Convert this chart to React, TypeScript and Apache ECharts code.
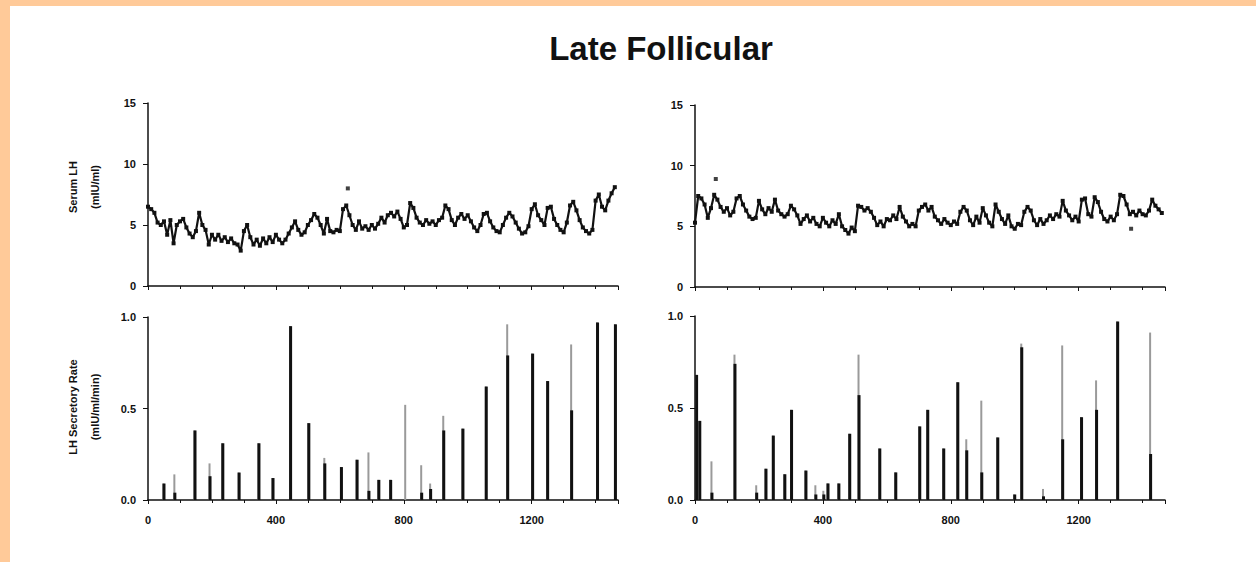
import React, { useEffect, useRef } from "react";
import * as echarts from "echarts";

const TITLE = "Late Follicular";
const SERUM_NAME = ["Serum LH", "(mIU/ml)"];
const RATE_NAME = ["LH Secretory Rate", "(mIU/ml/min)"];
const X_LABELS = [0, 400, 800, 1200];
const X_MAX = 1470;
const SAMPLE_STEP_MIN = 10;

// Serum LH (mIU/ml), one sample every 10 min
const leftSerumLH = [
  6.5, 6.3, 6.0, 5.2, 5.0, 5.3, 4.2, 5.4, 3.5, 5.0,
  5.3, 5.5, 4.8, 4.3, 4.0, 4.5, 6.0, 5.0, 4.6, 3.4,
  4.2, 3.8, 4.2, 3.7, 4.0, 3.6, 3.9, 3.5, 3.4, 2.9,
  4.5, 5.0, 4.0, 3.4, 3.8, 3.3, 3.9, 3.5, 4.0, 3.6,
  4.2, 3.8, 3.5, 3.8, 4.3, 4.8, 5.3, 4.6, 4.2, 4.4,
  5.0, 5.4, 5.9, 5.6, 5.0, 4.3, 5.5, 4.5, 4.4, 4.6,
  4.5, 6.3, 6.6, 5.8, 5.0, 4.6, 5.3, 4.7, 4.9, 4.6,
  5.0, 4.7, 5.1, 5.6, 5.2, 5.8, 6.0, 5.7, 6.1, 5.5,
  4.8, 5.0, 6.8, 6.4, 5.6, 5.2, 5.0, 5.4, 5.1, 5.3,
  5.0, 5.4, 5.6, 6.6, 6.3, 5.4, 5.0, 5.6, 5.9, 5.5,
  5.8, 5.3, 4.8, 4.5, 5.0, 5.9, 6.0, 5.3, 4.8, 4.5,
  4.4, 5.0, 5.6, 6.0, 5.7, 5.2, 4.7, 4.3, 4.4, 4.9,
  6.3, 6.7, 5.8, 5.4, 5.0, 6.4, 6.5, 5.5, 5.0, 4.6,
  4.4, 5.2, 6.6, 6.9, 6.2, 5.4, 4.8, 4.5, 4.3, 4.6,
  7.0, 7.5, 6.5, 6.2, 7.0, 7.6, 8.1,
];
const rightSerumLH = [
  5.3, 7.5, 7.3, 6.8, 5.7, 6.5, 7.6, 7.2, 6.6, 6.2,
  6.5, 5.9, 6.2, 7.3, 7.5, 6.8, 6.3, 5.8, 5.6, 5.7,
  7.1, 6.4, 6.0, 6.5, 6.2, 7.2, 6.3, 6.0, 5.8, 6.0,
  6.7, 6.4, 5.9, 5.2, 5.6, 5.9, 5.4, 5.7, 5.2, 5.0,
  5.7, 5.3, 5.0, 5.5, 5.2, 6.0, 5.0, 4.7, 4.4, 4.9,
  4.6, 6.7, 6.6, 6.3, 6.5, 6.2, 5.7, 5.1, 5.4, 5.0,
  5.6, 5.5, 5.9, 5.6, 6.6, 5.8, 5.4, 5.0, 5.2, 5.0,
  6.3, 6.6, 6.8, 6.3, 6.6, 5.8, 5.5, 5.2, 5.6, 5.3,
  5.1, 5.4, 5.2, 6.2, 6.6, 6.3, 5.5, 5.1, 5.8, 5.3,
  6.5, 5.9, 5.3, 5.0, 6.8, 6.2, 5.6, 5.2, 5.9, 5.0,
  4.8, 5.2, 5.1, 6.2, 6.6, 6.3, 5.5, 5.1, 5.6, 5.2,
  5.5, 5.9, 5.6, 6.0, 5.8, 7.1, 6.3, 5.9, 5.5, 5.8,
  5.4, 7.2, 7.3, 6.0, 5.8, 7.4, 7.0, 6.2, 5.6, 5.4,
  5.8, 5.5, 6.0, 7.6, 7.5, 6.8, 6.0, 6.2, 5.9, 6.3,
  6.0, 5.9, 6.3, 7.2, 6.7, 6.4, 6.1,
];
const leftSerumOutliers = [[625, 8.0]];
const rightSerumOutliers = [[65, 8.9], [1364, 4.8]];

// LH secretory rate pulses (mIU/ml/min): time, estimate, upper bound
const leftPulseMin = [50, 84, 147, 194, 234, 285, 347, 391, 446, 503, 553, 605, 654, 691, 722, 759, 806, 856, 884, 925, 985, 1058, 1125, 1203, 1250, 1325, 1406, 1462];
const leftPulseRate = [0.09, 0.04, 0.38, 0.13, 0.31, 0.15, 0.31, 0.12, 0.95, 0.42, 0.2, 0.18, 0.22, 0.05, 0.11, 0.11, 0.0, 0.04, 0.06, 0.38, 0.39, 0.62, 0.79, 0.8, 0.65, 0.49, 0.97, 0.96];
const leftPulseUpper = [0.09, 0.14, 0.38, 0.2, 0.31, 0.15, 0.31, 0.12, 0.95, 0.42, 0.23, 0.18, 0.22, 0.26, 0.11, 0.11, 0.52, 0.19, 0.09, 0.46, 0.39, 0.62, 0.96, 0.8, 0.65, 0.85, 0.97, 0.96];

const rightPulseMin = [5, 15, 53, 125, 193, 222, 245, 281, 302, 347, 378, 403, 416, 450, 484, 513, 578, 628, 703, 728, 778, 822, 850, 897, 947, 1000, 1022, 1090, 1150, 1209, 1256, 1322, 1425];
const rightPulseRate = [0.68, 0.43, 0.04, 0.74, 0.04, 0.17, 0.35, 0.14, 0.49, 0.16, 0.03, 0.03, 0.09, 0.09, 0.36, 0.57, 0.28, 0.15, 0.4, 0.49, 0.28, 0.64, 0.27, 0.15, 0.34, 0.03, 0.83, 0.02, 0.33, 0.45, 0.49, 0.97, 0.25];
const rightPulseUpper = [0.68, 0.43, 0.21, 0.79, 0.08, 0.17, 0.35, 0.14, 0.49, 0.16, 0.08, 0.05, 0.09, 0.09, 0.36, 0.79, 0.28, 0.15, 0.4, 0.49, 0.28, 0.64, 0.33, 0.54, 0.34, 0.03, 0.85, 0.06, 0.84, 0.45, 0.65, 0.97, 0.91];

const INK = "#111111";
const FONT = "'Liberation Sans', Arial, sans-serif";

const toPoints = (vals: number[]) => vals.map((v, i) => [i * SAMPLE_STEP_MIN, v]);
const toBars = (mins: number[], vals: number[]) => mins.map((m, i) => [m, vals[i]]);

export default function App() {
  const ref = useRef<HTMLDivElement>(null);
  useEffect(() => {
    if (!ref.current) return;
    const chart = echarts.init(ref.current, undefined, { renderer: "svg" });

    const grids = [
      { left: 148, top: 103, width: 470, height: 183 },
      { left: 695, top: 105, width: 470, height: 182 },
      { left: 148, top: 317, width: 470, height: 183 },
      { left: 695, top: 316, width: 470, height: 184 },
    ];

    const xAxis = grids.map((_, i) => ({
      type: "value",
      gridIndex: i,
      min: 0,
      max: X_MAX,
      interval: 400,
      splitLine: { show: false },
      axisLine: { show: true, lineStyle: { color: INK, width: 1.5 } },
      axisTick: { show: true, length: 4, lineStyle: { color: INK } },
      minorTick: { show: true, splitNumber: 4, length: 3, lineStyle: { color: INK } },
      axisLabel: {
        show: i >= 2,
        color: INK,
        fontFamily: FONT,
        fontSize: 11,
        fontWeight: "bold",
        margin: 14,
        showMaxLabel: false,
        formatter: (v: number) => (X_LABELS.includes(v) ? String(v) : ""),
      },
    }));

    const yAxis = grids.map((_, i) => {
      const serum = i < 2;
      return {
        type: "value",
        gridIndex: i,
        min: 0,
        max: serum ? 15 : 1,
        interval: serum ? 5 : 0.5,
        splitLine: { show: false },
        axisLine: { show: true, lineStyle: { color: INK, width: 1.5 } },
        axisTick: { show: true, length: 5, lineStyle: { color: INK } },
        axisLabel: {
          color: INK,
          fontFamily: FONT,
          fontSize: 11,
          fontWeight: "bold",
          margin: 12,
          formatter: (v: number) => (serum ? String(v) : v.toFixed(1)),
        },
      };
    });

    const lineSeries = (data: number[], idx: number) => ({
      type: "line",
      xAxisIndex: idx,
      yAxisIndex: idx,
      data: toPoints(data),
      symbol: "rect",
      symbolSize: 4,
      lineStyle: { color: INK, width: 2.2 },
      itemStyle: { color: INK },
    });
    const dotSeries = (data: number[][], idx: number) => ({
      type: "scatter",
      xAxisIndex: idx,
      yAxisIndex: idx,
      data,
      symbol: "rect",
      symbolSize: 4,
      itemStyle: { color: INK },
    });
    const barSeries = (mins: number[], vals: number[], idx: number, color: string, w: number) => ({
      type: "bar",
      xAxisIndex: idx,
      yAxisIndex: idx,
      data: toBars(mins, vals),
      barWidth: w,
      barGap: "-100%",
      itemStyle: { color },
    });

    const yName = (lines: string[], cy: number) =>
      lines.map((t, k) => ({
        type: "text",
        x: 73 + k * 22,
        y: cy,
        rotation: Math.PI / 2,
        style: {
          text: t,
          fill: INK,
          font: `bold 11px ${FONT}`,
          align: "center",
          verticalAlign: "middle",
        },
      }));

    chart.setOption({
      animation: false,
      backgroundColor: "#ffffff",
      grid: grids,
      xAxis,
      yAxis,
      series: [
        lineSeries(leftSerumLH, 0),
        dotSeries(leftSerumOutliers, 0),
        lineSeries(rightSerumLH, 1),
        dotSeries(rightSerumOutliers, 1),
        barSeries(leftPulseMin, leftPulseUpper, 2, "#9a9a9a", 2),
        barSeries(leftPulseMin, leftPulseRate, 2, INK, 3),
        barSeries(rightPulseMin, rightPulseUpper, 3, "#9a9a9a", 2),
        barSeries(rightPulseMin, rightPulseRate, 3, INK, 3),
      ],
      graphic: [
        { type: "rect", shape: { x: 0, y: 0, width: 10, height: 562 }, style: { fill: "#FFCA99" } },
        { type: "rect", shape: { x: 0, y: 0, width: 1256, height: 6 }, style: { fill: "#FFCA99" } },
        {
          type: "text",
          x: 661,
          y: 48,
          style: {
            text: TITLE,
            fill: INK,
            font: `bold 33px ${FONT}`,
            align: "center",
            verticalAlign: "middle",
          },
        },
        ...yName(SERUM_NAME, 187),
        ...yName(RATE_NAME, 407),
      ],
    });
    return () => chart.dispose();
  }, []);
  return <div ref={ref} style={{ position: "fixed", left: 0, top: 0, width: 1256, height: 562 }} />;
}
